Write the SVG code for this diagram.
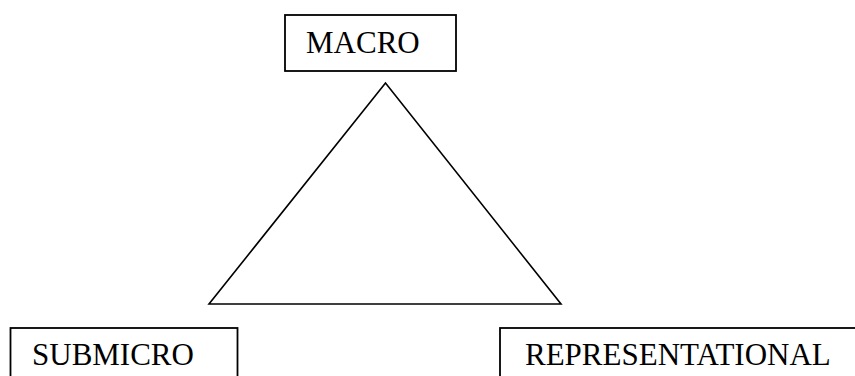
<svg xmlns="http://www.w3.org/2000/svg" width="855" height="376" viewBox="0 0 855 376">
  <style>
    .box { fill: #ffffff; stroke: #000000; stroke-width: 1.8; }
    .lbl { font-family: "Liberation Serif", "Times New Roman", serif; font-size: 31px; fill: #000000; }
    .edge { fill: none; stroke: #000000; stroke-width: 1.6; stroke-linejoin: miter; }
  </style>
  <rect width="855" height="376" fill="#ffffff"/>

  <!-- connectors: the triangle linking the three levels -->
  <g id="connectors">
    <polygon class="edge" points="385.5,83 209,304 561,304"/>
  </g>

  <g id="macro">
    <rect class="box" x="285" y="15" width="171" height="56"/>
    <text class="lbl" x="306" y="53">MACRO</text>
  </g>

  <g id="submicro">
    <rect class="box" x="10.5" y="328" width="227" height="60"/>
    <text class="lbl" x="32" y="365">SUBMICRO</text>
  </g>

  <g id="representational">
    <rect class="box" x="500" y="328" width="370" height="60"/>
    <text class="lbl" x="525" y="365">REPRESENTATIONAL</text>
  </g>
</svg>
